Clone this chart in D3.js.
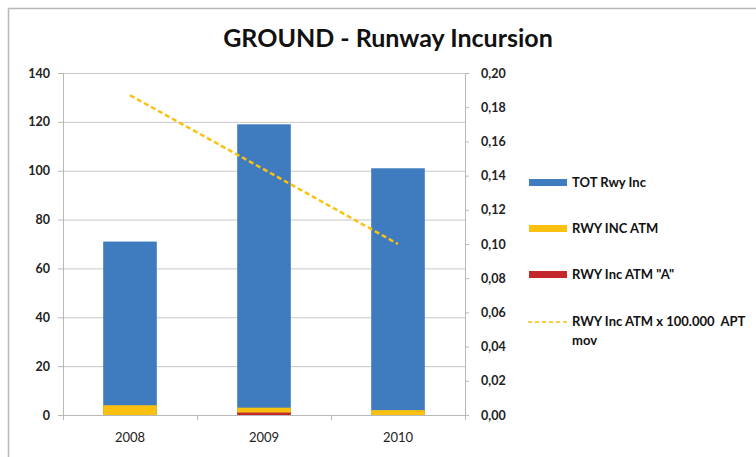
<!DOCTYPE html>
<html>
<head>
<meta charset="utf-8">
<script src="https://cdn.jsdelivr.net/npm/d3@7"></script>
<style>
  body { margin: 0; background: #fff; }
  svg { display: block; font-family: Lato, "Open Sans", sans-serif; }
  text { white-space: pre; }
</style>
</head>
<body>
<svg id="chart" width="756" height="457"></svg>
<script>
// data
const years = ['2008', '2009', '2010'];
const totRwyInc = [71, 119, 101];
const rwyIncAtm = [4, 3, 2];
const rwyIncAtmA = [0, 1, 0];
const ratePer100k = [0.187, 0.1436, 0.100];
const leftTicks = [0, 20, 40, 60, 80, 100, 120, 140];
const rightTicks = [0, 0.02, 0.04, 0.06, 0.08, 0.10, 0.12, 0.14, 0.16, 0.18, 0.20];

const svg = d3.select('#chart');
const m = { left: 63, right: 465, top: 73, bottom: 415 };

// frame
svg.append('path')
    .attr('d', 'M8.5,457 V8.5 H756')
    .attr('fill', 'none')
    .attr('stroke', '#b8b8b8')
    .attr('stroke-width', 1.5);

svg.append('text')
    .attr('x', 388).attr('y', 47)
    .attr('text-anchor', 'middle')
    .attr('font-size', 25).attr('font-weight', 'bold')
    .attr('fill', '#111')
    .text('GROUND - Runway Incursion');

const x = d3.scaleBand().domain(years).range([m.left, m.right]).paddingInner(0.6).paddingOuter(0.3);
const xb = d3.scaleBand().domain(years).range([m.left, m.right]);
const y = d3.scaleLinear().domain([0, 140]).range([m.bottom, m.top]);
const y2 = d3.scaleLinear().domain([0, 0.2]).range([m.bottom, m.top]);

// gridlines
svg.append('g').selectAll('line').data(leftTicks.slice(1)).join('line')
    .attr('x1', m.left).attr('x2', m.right)
    .attr('y1', d => y(d) + 0.5).attr('y2', d => y(d) + 0.5)
    .attr('stroke', '#c8c8c8');

// bars, overlapped
const series = [
  { vals: totRwyInc, color: '#3f7bbf' },
  { vals: rwyIncAtm, color: '#fcc00f' },
  { vals: rwyIncAtmA, color: '#c4262b' }
];
series.forEach(s => {
  svg.append('g').selectAll('rect').data(years).join('rect')
      .attr('x', d => x(d))
      .attr('width', x.bandwidth())
      .attr('y', (d, i) => y(s.vals[i]))
      .attr('height', (d, i) => y(0) - y(s.vals[i]))
      .attr('fill', s.color);
});

// axes
const fmt = d3.format('.2f');
const axL = svg.append('g').attr('transform', `translate(${m.left},0)`)
    .call(d3.axisLeft(y).tickValues(leftTicks).tickSize(5).tickPadding(8));
const axR = svg.append('g').attr('transform', `translate(${m.right},0)`)
    .call(d3.axisRight(y2).tickValues(rightTicks).tickSize(4).tickPadding(12)
      .tickFormat(d => fmt(d).replace('.', ',')));
const axB = svg.append('g').attr('transform', `translate(0,${m.bottom})`)
    .call(d3.axisBottom(xb).tickSize(0).tickPadding(18));
// category boundary ticks
svg.append('g').selectAll('line').data(years).join('line')
    .attr('x1', d => xb(d) + 0.5).attr('x2', d => xb(d) + 0.5)
    .attr('y1', m.bottom).attr('y2', m.bottom + 5)
    .attr('stroke', '#b8b8b8');
svg.append('line')
    .attr('x1', m.right + 0.5).attr('x2', m.right + 0.5)
    .attr('y1', m.bottom).attr('y2', m.bottom + 5)
    .attr('stroke', '#b8b8b8');

[axL, axR, axB].forEach(a => {
  a.select('.domain').attr('stroke', '#b8b8b8');
  a.selectAll('.tick line').attr('stroke', '#b8b8b8');
  a.selectAll('.tick text').attr('font-size', 12.5).attr('fill', '#222').attr('font-family', 'Lato, sans-serif');
});
axL.selectAll('.tick text').attr('font-weight', 'bold');
axR.selectAll('.tick text').attr('font-weight', 'bold');
axB.selectAll('.tick text').attr('font-size', 13);

// rate line on the secondary axis
const line = d3.line()
    .x((d, i) => x(years[i]) + x.bandwidth() / 2)
    .y(d => y2(d));
svg.append('path')
    .datum(ratePer100k)
    .attr('d', line)
    .attr('fill', 'none')
    .attr('stroke', '#fcc00f')
    .attr('stroke-width', 2.5)
    .attr('stroke-dasharray', '5,3');

// legend
const legend = [
  { label: 'TOT Rwy Inc', color: '#3f7bbf', y: 182 },
  { label: 'RWY INC ATM', color: '#fcc00f', y: 228 },
  { label: 'RWY Inc ATM "A"', color: '#c4262b', y: 274 }
];
const lg = svg.append('g').attr('font-size', 13).attr('font-weight', 'bold').attr('fill', '#111');
legend.forEach(l => {
  lg.append('rect').attr('x', 529).attr('y', l.y - 3).attr('width', 38).attr('height', 7).attr('fill', l.color);
  lg.append('text').attr('x', 572).attr('y', l.y + 5).text(l.label);
});
lg.append('line').attr('x1', 528).attr('x2', 567).attr('y1', 322).attr('y2', 322)
    .attr('stroke', '#fcc00f').attr('stroke-width', 1.5).attr('stroke-dasharray', '4,3');
lg.append('text').attr('x', 572).attr('y', 326).text('RWY Inc ATM x 100.000  APT');
lg.append('text').attr('x', 572).attr('y', 345).text('mov');
</script>
</body>
</html>
